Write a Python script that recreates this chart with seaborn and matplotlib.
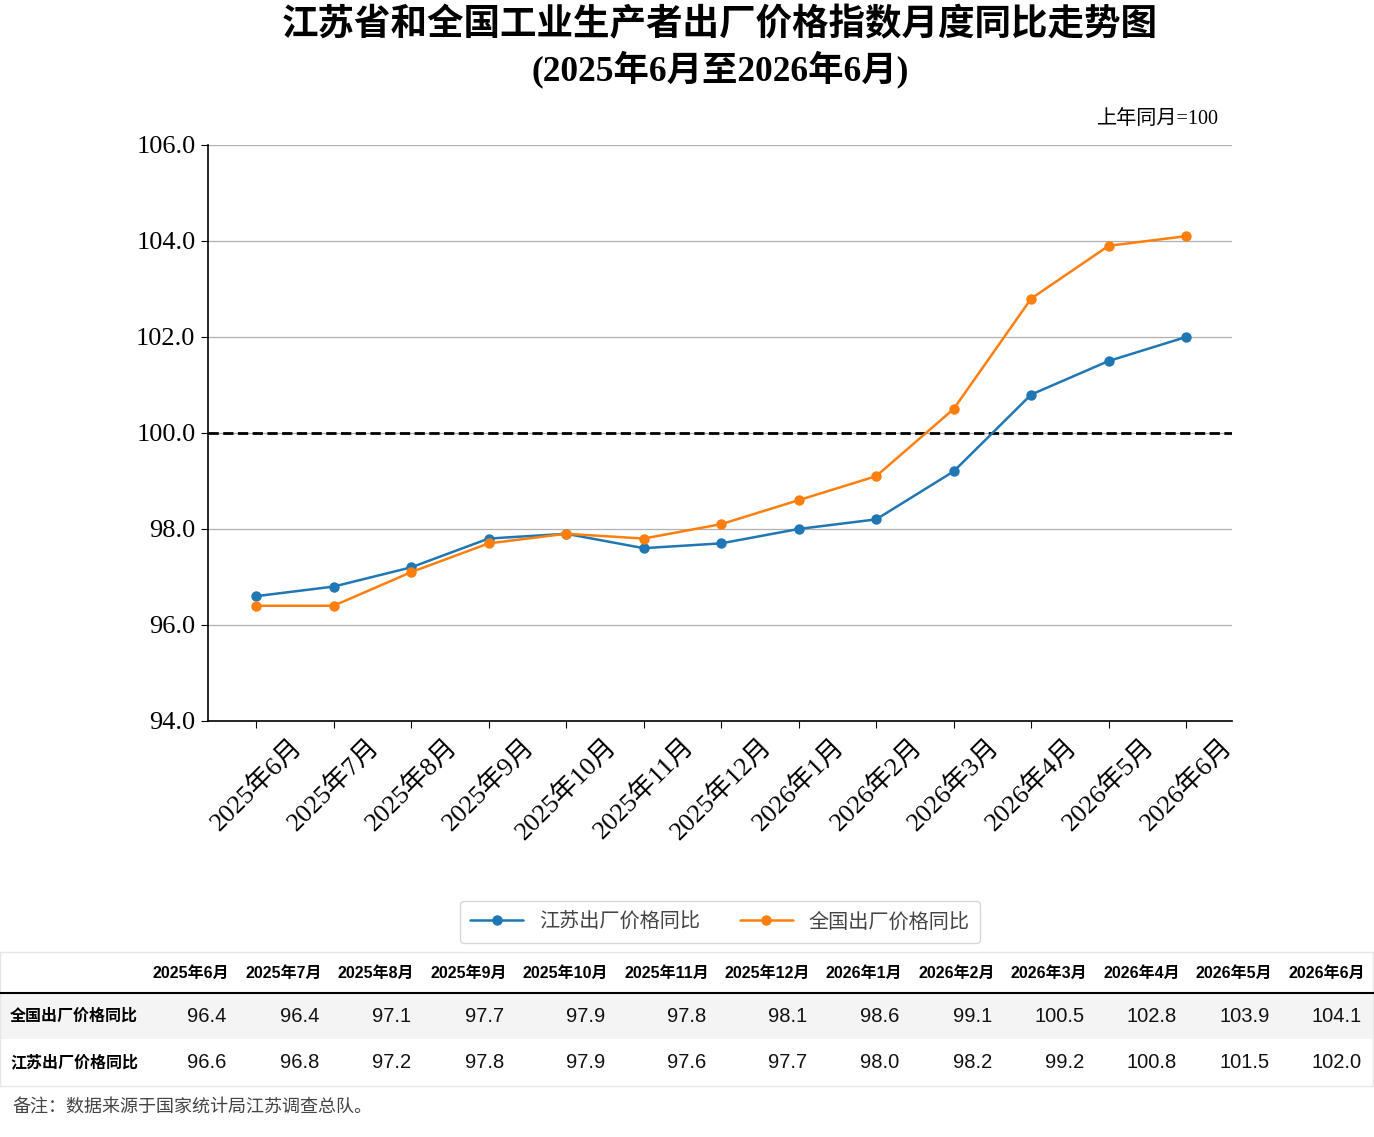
import matplotlib.pyplot as plt
import matplotlib.patches as mpatches
import pandas as pd
import seaborn as sns

# chart data
months = [
    "2025年6月", "2025年7月", "2025年8月", "2025年9月", "2025年10月",
    "2025年11月", "2025年12月", "2026年1月", "2026年2月", "2026年3月",
    "2026年4月", "2026年5月", "2026年6月",
]
jiangsu = [96.6, 96.8, 97.2, 97.8, 97.9, 97.6, 97.7, 98.0, 98.2, 99.2, 100.8, 101.5, 102.0]
national = [96.4, 96.4, 97.1, 97.7, 97.9, 97.8, 98.1, 98.6, 99.1, 100.5, 102.8, 103.9, 104.1]
series_names = ["江苏出厂价格同比", "全国出厂价格同比"]
y_ticks = [94, 96, 98, 100, 102, 104, 106]
baseline = 100

SERIF = ["Liberation Serif", "Noto Sans CJK SC"]
SANS = ["Liberation Sans", "Noto Sans CJK SC"]
COLORS = ["#1f77b4", "#ff7f0e"]


def main():
    sns.set_style("ticks")
    plt.rcParams["font.family"] = SERIF
    plt.rcParams["axes.unicode_minus"] = False
    plt.rcParams["text.color"] = "black"
    plt.rcParams["xtick.color"] = "black"
    plt.rcParams["ytick.color"] = "black"

    df = pd.DataFrame({
        "idx": list(range(len(months))) * 2,
        "value": jiangsu + national,
        "series": [series_names[0]] * len(months) + [series_names[1]] * len(months),
    })

    fig = plt.figure(figsize=(13.74, 11.37), dpi=100, facecolor="white")
    ax = fig.add_axes([0.1514, 0.3659, 0.7452, 0.5066])

    sns.lineplot(
        data=df, x="idx", y="value", hue="series", hue_order=series_names,
        palette=COLORS, marker="o", markersize=7.5, markeredgewidth=0,
        linewidth=1.8, legend=False, ax=ax, zorder=3,
    )
    handles = list(ax.lines[:2])
    ax.axhline(baseline, color="black", lw=2, ls="--", zorder=2)

    ax.set_xlim(-0.62, len(months) - 1 + 0.59)
    ax.set_ylim(y_ticks[0], y_ticks[-1])
    ax.set_yticks(y_ticks)
    ax.set_yticklabels([f"{v:.1f}" for v in y_ticks], fontsize=19)
    ax.set_xticks(range(len(months)))
    ax.set_xticklabels(months, rotation=45, fontsize=19)
    ax.set_xlabel("")
    ax.set_ylabel("")
    ax.yaxis.grid(True, color="#b0b0b0", lw=0.9, zorder=0)
    ax.xaxis.grid(False)
    for side in ["top", "right"]:
        ax.spines[side].set_visible(False)
    for side in ["left", "bottom"]:
        ax.spines[side].set_color("black")
        ax.spines[side].set_linewidth(1.2)
    ax.tick_params(axis="both", direction="out", length=5, color="black", pad=4)

    # titles
    cx = 720 / 1374
    fig.text(cx, 1 - 26 / 1137, "江苏省和全国工业生产者出厂价格指数月度同比走势图",
             ha="center", va="center", fontsize=26.3, fontweight="bold")
    fig.text(cx, 1 - 69 / 1137, "(2025年6月至2026年6月)",
             ha="center", va="center", fontsize=25.5, fontweight="bold")
    fig.text(1219 / 1374, 1 - 119 / 1137, "上年同月=100",
             ha="right", va="center", fontsize=14.5)

    fig.legend(
        handles, series_names, loc="center", bbox_to_anchor=(cx, 1 - 922 / 1137),
        ncol=2, frameon=True, fancybox=True, edgecolor="#cccccc",
        handlelength=2.6, columnspacing=2.0, borderpad=0.5,
        prop={"family": "Noto Sans CJK SC", "size": 14.5},
        labelcolor="#444444",
    )

    # data table drawn in pixel coordinates
    tab = fig.add_axes([0, 0, 1, 1], zorder=-1)
    tab.set_xlim(0, 1374)
    tab.set_ylim(1137, 0)
    tab.axis("off")

    top, head_bot, row_bot, bot = 952, 993, 1039, 1086
    tab.add_patch(mpatches.Rectangle((0, head_bot), 1374, row_bot - head_bot,
                                     facecolor="#f4f4f4", edgecolor="none"))
    for y in [top, bot]:
        tab.plot([0, 1374], [y, y], color="#e6e6e6", lw=1)
    tab.plot([0, 0], [top, bot], color="#e6e6e6", lw=1)
    tab.plot([1373, 1373], [top, bot], color="#e6e6e6", lw=1)
    tab.plot([0, 1374], [head_bot, head_bot], color="black", lw=1.5)

    x = 145
    rows = [(national, (head_bot + row_bot) / 2), (jiangsu, (row_bot + bot) / 2)]
    for i, m in enumerate(months):
        w = 92.5 if len(m) <= 7 else 101
        tab.text(x + w / 2, (top + head_bot) / 2 + 1, m, ha="center", va="center",
                 fontsize=11.5, fontweight="bold", family=SANS)
        for vals, yc in rows:
            tab.text(x + w - 11, yc, f"{vals[i]:.1f}", ha="right", va="center",
                     fontsize=14.5, family=SANS, color="#111111")
        x += w
    tab.text(10, rows[0][1], series_names[1], ha="left", va="center",
             fontsize=11.5, fontweight="bold", family=SANS)
    tab.text(10, rows[1][1], series_names[0], ha="left", va="center",
             fontsize=11.5, fontweight="bold", family=SANS)

    tab.text(12, 1107, "备注：数据来源于国家统计局江苏调查总队。", ha="left", va="center",
             fontsize=13, family="Noto Sans CJK SC", color="#444444")

    fig.savefig("out.png", dpi=100, facecolor="white")


if __name__ == "__main__":
    main()
